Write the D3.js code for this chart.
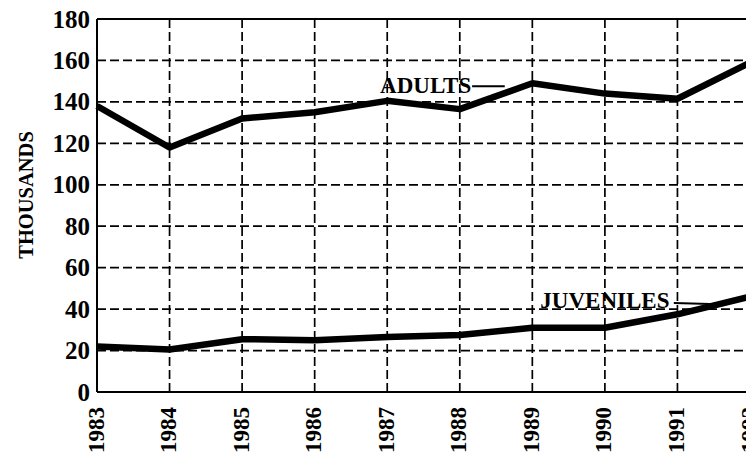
<!DOCTYPE html>
<html>
<head>
<meta charset="utf-8">
<script src="https://cdn.jsdelivr.net/npm/d3@7"></script>
<style>
  html, body { margin: 0; padding: 0; background: #fff; }
  svg { display: block; }
</style>
</head>
<body>
<svg id="chart" width="746" height="455"></svg>
<script>
const years = [1983, 1984, 1985, 1986, 1987, 1988, 1989, 1990, 1991, 1992];
const adults = [138, 118, 132, 135, 140.5, 136.5, 149, 144, 141.5, 159];
const juveniles = [22, 20.5, 25.5, 25, 26.5, 27.5, 31, 31, 37.5, 46];
const yTicks = [0, 20, 40, 60, 80, 100, 120, 140, 160, 180];
const yTitle = "THOUSANDS";
const seriesLabels = [
  { name: "ADULTS", year: 1987.53, value: 144.5, leader: [[1988.17, 147.5], [1988.62, 147.5]] },
  { name: "JUVENILES", year: 1990.0, value: 40.5, leader: [[1990.95, 43], [1991.45, 42.5]] }
];

const svg = d3.select("#chart");
const serif = "'Liberation Serif', 'Times New Roman', serif";

const x = d3.scaleLinear().domain([1983, 1992]).range([97, 750]);
const y = d3.scaleLinear().domain([0, 180]).range([392, 19]);

// horizontal dashed grid
svg.append("g").selectAll("line")
  .data(yTicks.filter(d => d > 0 && d < 180))
  .join("line")
  .attr("x1", x(1983)).attr("x2", 746)
  .attr("y1", d => y(d)).attr("y2", d => y(d))
  .attr("stroke", "#000").attr("stroke-width", 1.7)
  .attr("stroke-dasharray", "9,4");

// vertical dashed grid
svg.append("g").selectAll("line")
  .data(years.filter(d => d > 1983))
  .join("line")
  .attr("x1", d => x(d)).attr("x2", d => x(d))
  .attr("y1", y(180)).attr("y2", y(0) + 3)
  .attr("stroke", "#000").attr("stroke-width", 1.7)
  .attr("stroke-dasharray", "9,4");

// frame: top, left, bottom
svg.append("line").attr("x1", x(1983)).attr("x2", 746).attr("y1", y(180)).attr("y2", y(180))
  .attr("stroke", "#000").attr("stroke-width", 2);
svg.append("line").attr("x1", x(1983)).attr("x2", 746).attr("y1", y(0)).attr("y2", y(0))
  .attr("stroke", "#000").attr("stroke-width", 2);
svg.append("line").attr("x1", x(1983)).attr("x2", x(1983)).attr("y1", y(180)).attr("y2", y(0))
  .attr("stroke", "#000").attr("stroke-width", 2);

// y axis labels
const yAxis = d3.axisLeft(y).tickValues(yTicks).tickSize(0).tickPadding(7);
const gy = svg.append("g").attr("transform", `translate(${x(1983)},0)`).call(yAxis);
gy.select(".domain").remove();
gy.selectAll("text")
  .style("font-family", serif).style("font-weight", "bold").style("font-size", "25px")
  .attr("fill", "#000");

// x axis labels (rotated)
const xAxis = d3.axisBottom(x).tickValues(years).tickFormat(d3.format("d")).tickSize(0);
const gx = svg.append("g").attr("transform", `translate(0,${y(0)})`).call(xAxis);
gx.select(".domain").remove();
gx.selectAll("text")
  .style("font-family", serif).style("font-weight", "bold").style("font-size", "23px")
  .attr("fill", "#000")
  .attr("transform", "rotate(-90)")
  .attr("text-anchor", "end")
  .attr("x", -15).attr("y", -2).attr("dy", "0.35em");

// y title
svg.append("text")
  .attr("transform", "translate(33,195) rotate(-90)")
  .attr("text-anchor", "middle")
  .style("font-family", serif).style("font-weight", "bold").style("font-size", "20.5px")
  .attr("fill", "#000")
  .text(yTitle);

// series lines
const line = d3.line().x((d, i) => x(years[i])).y(d => y(d));
[adults, juveniles].forEach(s => {
  svg.append("path").datum(s)
    .attr("d", line)
    .attr("fill", "none").attr("stroke", "#000")
    .attr("stroke-width", 6.5).attr("stroke-linejoin", "round");
});

// series labels with leader lines
seriesLabels.forEach(l => {
  svg.append("text")
    .attr("x", x(l.year)).attr("y", y(l.value))
    .attr("text-anchor", "middle")
    .style("font-family", serif).style("font-weight", "bold").style("font-size", "23px")
    .attr("fill", "#000")
    .text(l.name);
  svg.append("line")
    .attr("x1", x(l.leader[0][0])).attr("y1", y(l.leader[0][1]))
    .attr("x2", x(l.leader[1][0])).attr("y2", y(l.leader[1][1]))
    .attr("stroke", "#000").attr("stroke-width", 2);
});
</script>
</body>
</html>
